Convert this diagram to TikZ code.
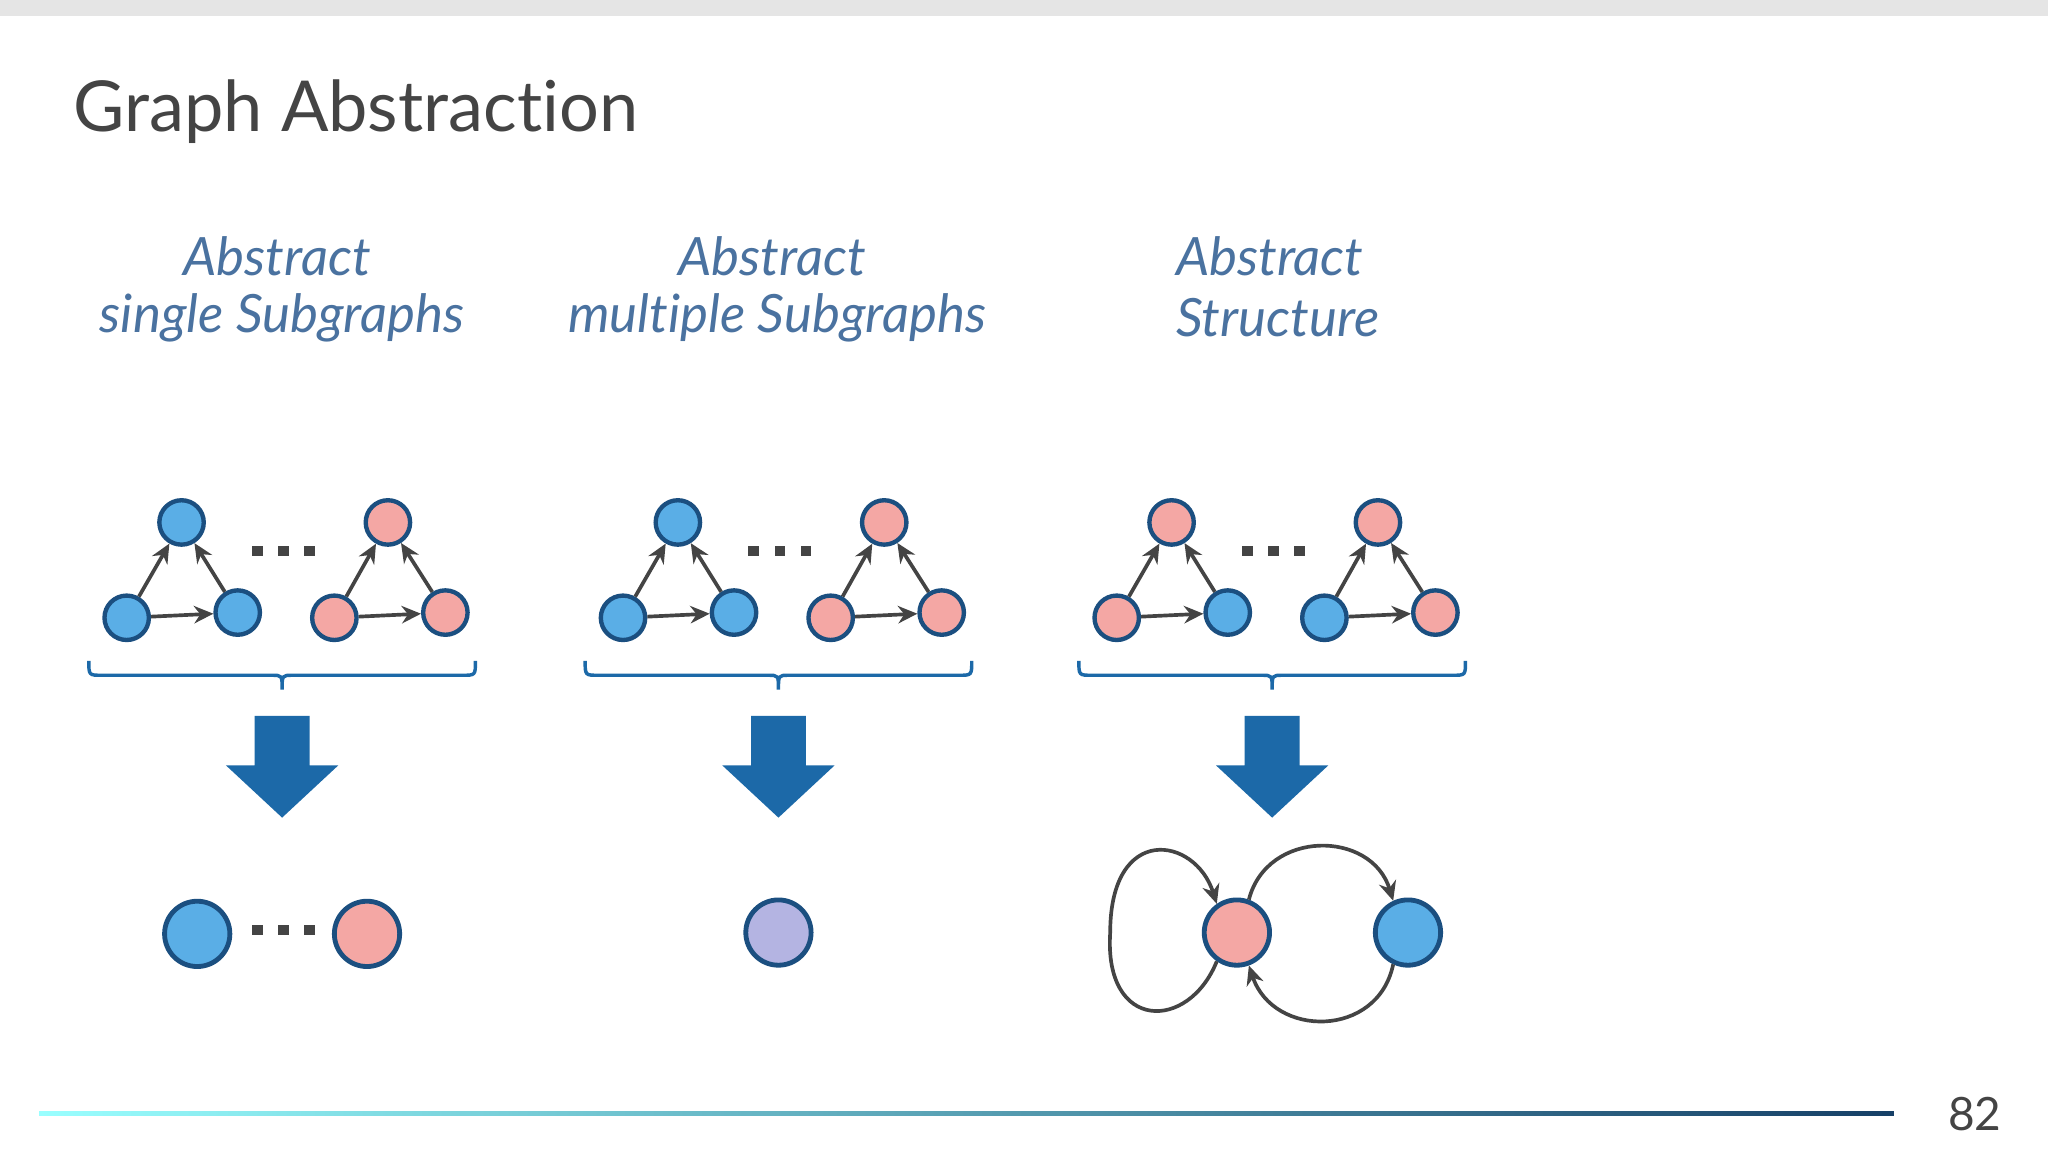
\documentclass[tikz,border=0pt]{standalone}
\usepackage{fontspec}
\setmainfont{Lato}[Ligatures=NoCommon]
\usetikzlibrary{arrows.meta,shadings}
\definecolor{nblue}{HTML}{5AAEE6}
\definecolor{npink}{HTML}{F4A7A4}
\definecolor{npurp}{HTML}{B4B4E2}
\definecolor{nbord}{HTML}{1B4F80}
\definecolor{hcol}{HTML}{4A72A0}
\definecolor{acol}{HTML}{1C69A8}
\definecolor{ecol}{HTML}{444444}
\tikzset{
 sn/.style={circle,draw=nbord,line width=0.95pt,minimum size=34\pxu,inner sep=0pt},
 bn/.style={circle,draw=nbord,line width=1.05pt,minimum size=50\pxu,inner sep=0pt},
 ed/.style={draw=ecol,line width=0.8pt,-{Stealth[length=4.2pt,width=3.8pt]}},
 hd/.style={text=hcol,font=\fontsize{11.5}{14}\selectfont\itshape},
 dotsq/.style={fill=ecol,minimum width=8\pxu,minimum height=8\pxu,inner sep=0pt}
}
\newcommand{\pxu}{*0.01cm}
\begin{document}
\begin{tikzpicture}[x=0.01cm,y=-0.01cm]
\useasboundingbox (0,0) rectangle (1568,882);
\fill[white] (0,0) rectangle (1568,882);
\fill[black!10] (0,0) rectangle (1568,12);
\node[anchor=base west,text=ecol,font=\fontsize{15.3}{19}\selectfont] (title) at (44,101) {Graph Abstraction};
% headings
\node[hd] (h1a) at (212,196) {Abstract};
\node[hd] (h1b) at (216,243) {single Subgraphs};
\node[hd] (h2a) at (591,196) {Abstract};
\node[hd] (h2b) at (595,243) {multiple Subgraphs};
\node[hd,anchor=west] (h3a) at (888,196) {Abstract};
\node[hd,anchor=west] (h3b) at (888,243) {Structure};
% groups
\foreach \dx/\ca/\cb/\cc/\cd/\ce/\cf/\g in {0/nblue/nblue/nblue/npink/npink/npink/a, 380/nblue/nblue/nblue/npink/npink/npink/b, 758/npink/npink/nblue/npink/nblue/npink/c}{
 \begin{scope}[xshift=\dx*0.01cm]
 \node[sn,fill=\ca] (t1\g) at (139,400) {};
 \node[sn,fill=\cb] (l1\g) at (97,473) {};
 \node[sn,fill=\cc] (r1\g) at (182,469) {};
 \node[sn,fill=\cd] (t2\g) at (297,400) {};
 \node[sn,fill=\ce] (l2\g) at (256,473) {};
 \node[sn,fill=\cf] (r2\g) at (341,469) {};
 \draw[ed] (l1\g) -- (t1\g);
 \draw[ed] (r1\g) -- (t1\g);
 \draw[ed] (l1\g) -- (r1\g);
 \draw[ed] (l2\g) -- (t2\g);
 \draw[ed] (r2\g) -- (t2\g);
 \draw[ed] (l2\g) -- (r2\g);
 \node[dotsq] (d1\g) at (197,422) {};
 \node[dotsq] (d2\g) at (217,422) {};
 \node[dotsq] (d3\g) at (237,422) {};
 \draw[acol,line width=0.75pt] (68,506) .. controls (68,517) .. (78,517) -- (208,517) .. controls (216,517) .. (216,528) .. controls (216,517) .. (224,517) -- (354,517) .. controls (364,517) .. (364,506);
 \fill[acol] (195,548) -- (237,548) -- (237,586) -- (259,586) -- (216,626) -- (173,586) -- (195,586) -- cycle;
 \end{scope}}
% bottom results
\node[bn,fill=nblue] (ba) at (151,715) {};
\node[bn,fill=npink] (bb) at (281,715) {};
\node[dotsq] (e1) at (197,712) {};
\node[dotsq] (e2) at (217,712) {};
\node[dotsq] (e3) at (237,712) {};
\node[bn,fill=npurp] (bp) at (596,714) {};
\node[bn,fill=npink] (cp) at (947,714) {};
\node[bn,fill=nblue] (cb) at (1078,714) {};
\draw[ed] (cp.235) .. controls (910,790) and (845,790) .. (850,714) .. controls (850,630) and (915,640) .. (cp.125);
\draw[ed] (cp.70) .. controls (970,635) and (1050,635) .. (cb.115);
\draw[ed] (cb.245) .. controls (1055,795) and (975,795) .. (cp.290);
% bottom line
\shade[left color=cyan!40!white,right color=nbord!80!black] (30,851) rectangle (1450,854);
\node[text=ecol,font=\fontsize{10}{12}\selectfont] (pg) at (1512,853) {82};
\end{tikzpicture}
\end{document}
